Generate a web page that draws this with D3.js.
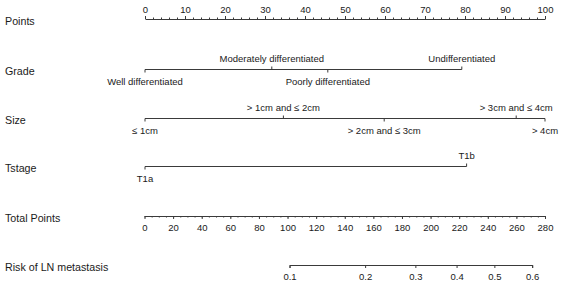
<!DOCTYPE html>
<html>
<head>
<meta charset="utf-8">
<script src="https://cdn.jsdelivr.net/npm/d3@7"></script>
<style>
  body { margin: 0; background: #fff; }
  svg { display: block; font-family: "Liberation Sans", Arial, sans-serif; }
</style>
</head>
<body>
<svg id="chart" width="563" height="287"></svg>
<script>
// nomogram values
const pointLabels = [0, 10, 20, 30, 40, 50, 60, 70, 80, 90, 100];
const totalLabels = [0, 20, 40, 60, 80, 100, 120, 140, 160, 180, 200, 220, 240, 260, 280];
const riskLabels = [0.1, 0.2, 0.3, 0.4, 0.5, 0.6];

const gradeLevels = ["Well differentiated", "Moderately differentiated", "Poorly differentiated", "Undifferentiated"];
const gradePoints = [0, 31.7, 45.7, 79.2];

const sizeLevels = ["\u2264 1cm", "> 1cm and \u2264 2cm", "> 2cm and \u2264 3cm", "> 3cm and \u2264 4cm", "> 4cm"];
const sizePoints = [0, 34.6, 59.8, 92.8, 100];

const tstageLevels = ["T1a", "T1b"];
const tstagePoints = [0, 80.4];

// total points = intercept + slope * logit(risk)
const lpIntercept = 244.6;
const lpSlope = 65.18;

let rows = {
    points: 19,
    grade: 69.5,
    size: 118.5,
    tstage: 166.5,
    total: 216,
    risk: 265,
};

let colors = { text: "#1a1a1a", line: "#3a3a3a" };

let svg = d3.select("#chart");

let xPts = d3.scaleLinear().domain([0, 100]).range([145, 545]);
let xTot = d3.scaleLinear().domain([0, 280]).range([144.5, 545]);

const logit = (p) => Math.log(p / (1 - p));
let xRisk = d3.scaleLinear()
    .domain([logit(riskLabels[0]), logit(riskLabels[riskLabels.length - 1])])
    .range([
        xTot(lpIntercept + lpSlope * logit(riskLabels[0])),
        xTot(lpIntercept + lpSlope * logit(riskLabels[riskLabels.length - 1])),
    ]);

// row titles
let titles = [
    ["Points", rows.points],
    ["Grade", rows.grade],
    ["Size", rows.size],
    ["Tstage", rows.tstage],
    ["Total Points", rows.total],
    ["Risk of LN metastasis", rows.risk],
];
svg.selectAll("text.title")
    .data(titles)
    .enter()
    .append("text")
    .attr("class", "title")
    .attr("x", 5)
    .attr("y", (d) => d[1] + 2.5)
    .attr("dy", "0.32em")
    .style("font-size", "10.7px")
    .style("fill", colors.text)
    .text((d) => d[0]);

function styleAxis(g) {
    g.selectAll("path, line").attr("stroke", colors.line).attr("stroke-width", 1);
    g.selectAll("text").style("font-size", "9.5px").style("fill", colors.text).attr("font-family", null);
    g.attr("font-family", null);
}

// Points axis: minor ticks every 2, labels every 10
let ptsMinor = d3.range(0, 101, 2);
svg.append("g")
    .attr("transform", `translate(0, ${rows.points})`)
    .call(d3.axisTop(xPts).tickValues(ptsMinor).tickSize(1.5).tickSizeOuter(0).tickFormat(""))
    .call(styleAxis);
svg.append("g")
    .attr("transform", `translate(0, ${rows.points})`)
    .call(d3.axisTop(xPts).tickValues(pointLabels).tickSize(3).tickSizeOuter(0).tickPadding(3))
    .call(styleAxis)
    .call((g) => g.select(".domain").remove());

// variable rows: labels alternate below / above the line
function variableRow(levels, pts, y) {
    let maxPts = d3.max(pts);
    let g = svg.append("g").attr("transform", `translate(0, ${y})`);

    g.append("line")
        .attr("x1", xPts(0))
        .attr("x2", xPts(maxPts))
        .attr("stroke", colors.line)
        .attr("stroke-width", 1);

    let items = levels.map((name, i) => ({ name, pts: pts[i], above: i % 2 === 1 }));

    g.selectAll("line.tick")
        .data(items)
        .enter()
        .append("line")
        .attr("class", "tick")
        .attr("x1", (d) => xPts(d.pts))
        .attr("x2", (d) => xPts(d.pts))
        .attr("y1", 0)
        .attr("y2", (d) => (d.above ? -3 : 3))
        .attr("stroke", colors.line)
        .attr("stroke-width", 1);

    g.selectAll("text")
        .data(items)
        .enter()
        .append("text")
        .attr("x", (d) => xPts(d.pts))
        .attr("y", (d) => (d.above ? -11.2 : 11.8))
        .attr("dy", "0.35em")
        .attr("text-anchor", "middle")
        .style("font-size", "9.5px")
        .style("fill", colors.text)
        .text((d) => d.name);
}

variableRow(gradeLevels, gradePoints, rows.grade);
variableRow(sizeLevels, sizePoints, rows.size);
variableRow(tstageLevels, tstagePoints, rows.tstage);

// Total points axis
let totMinor = d3.range(0, 281, 5);
svg.append("g")
    .attr("transform", `translate(0, ${rows.total})`)
    .call(d3.axisBottom(xTot).tickValues(totMinor).tickSize(1.5).tickSizeOuter(0).tickFormat(""))
    .call(styleAxis);
svg.append("g")
    .attr("transform", `translate(0, ${rows.total})`)
    .call(d3.axisBottom(xTot).tickValues(totalLabels).tickSize(3).tickSizeOuter(0).tickPadding(5))
    .call(styleAxis)
    .call((g) => g.select(".domain").remove());

// Risk axis (logit scale)
svg.append("g")
    .attr("transform", `translate(0, ${rows.risk})`)
    .call(
        d3.axisBottom(xRisk)
            .tickValues(riskLabels.map(logit))
            .tickFormat((d, i) => riskLabels[i])
            .tickSize(3)
            .tickSizeOuter(3)
            .tickPadding(5)
    )
    .call(styleAxis);
</script>
</body>
</html>
